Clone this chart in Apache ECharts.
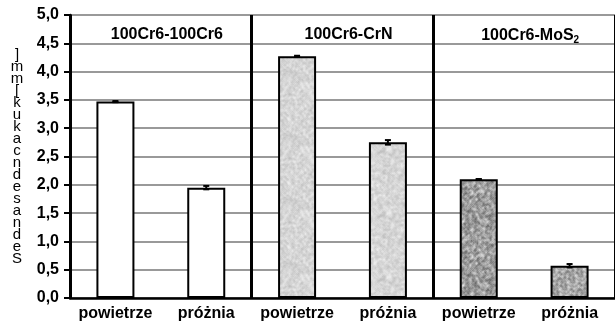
<!DOCTYPE html>
<html><head><meta charset="utf-8">
<script src="https://cdn.jsdelivr.net/npm/echarts@6/dist/echarts.min.js"></script>
<style>html,body{margin:0;padding:0;background:#fff}#c{width:615px;height:322px}</style>
</head><body><div id="c"></div>
<script>
var categories = ['powietrze', 'próżnia', 'powietrze', 'próżnia', 'powietrze', 'próżnia'];
var groups = ['100Cr6-100Cr6', '100Cr6-CrN', '100Cr6-MoS2'];
var values = [3.47, 1.95, 4.27, 2.75, 2.10, 0.57];
var errors = [0.01, 0.03, 0.01, 0.04, 0.0, 0.03];
var yTicks = ['0,0','0,5','1,0','1,5','2,0','2,5','3,0','3,5','4,0','4,5','5,0'];
var yLabelChars = [']','m','m','[','k','u','k','a','c','n','d','e','s','a','n','d','e','S'];

function noise(base, amp, seed) {
  var n = 64, c = document.createElement('canvas');
  c.width = n; c.height = n;
  var ctx = c.getContext('2d');
  var img = ctx.createImageData(n, n);
  var s = seed, grid = [];
  for (var i = 0; i < n * n; i++) {
    s = (s * 1103515245 + 12345) % 2147483648;
    grid.push(s / 2147483648 - 0.5);
  }
  for (var y = 0; y < n; y++) for (var x = 0; x < n; x++) {
    var a = 0;
    for (var dy = -1; dy <= 1; dy++) for (var dx = -1; dx <= 1; dx++) {
      a += grid[((y + dy + n) % n) * n + ((x + dx + n) % n)];
    }
    var v = Math.round(base + a / 9 * 2 * amp * 2.2 + grid[y * n + x] * amp * 0.6);
    v = Math.max(0, Math.min(255, v));
    var k = (y * n + x) * 4;
    img.data[k] = v; img.data[k + 1] = v; img.data[k + 2] = v; img.data[k + 3] = 255;
  }
  ctx.putImageData(img, 0, 0);
  return { image: c, repeat: 'repeat' };
}
var fills = ['#ffffff', '#ffffff', noise(214, 14, 7), noise(214, 14, 11), noise(158, 38, 5), noise(158, 38, 9)];

var chart = echarts.init(document.getElementById('c'), null, { renderer: 'canvas' });
var bold = { fontFamily: 'Liberation Sans, Arial, sans-serif', fontWeight: 'bold', color: '#000' };

chart.setOption({
  animation: false,
  backgroundColor: '#fff',
  grid: { left: 70, top: 15, width: 555, height: 283, show: true, borderColor: '#000', borderWidth: 2, backgroundColor: 'transparent' },
  xAxis: [{
    type: 'category', data: categories, position: 'bottom',
    axisLine: { lineStyle: { color: '#000', width: 2.5 } },
    axisTick: { show: false },
    axisLabel: Object.assign({ fontSize: 16, margin: 8, interval: 0 }, bold)
  }, {
    type: 'category', data: groups, position: 'top',
    axisLine: { show: false }, axisTick: { show: false },
    splitLine: { show: true, lineStyle: { color: '#000', width: 3 } },
    axisLabel: Object.assign({
      inside: true, margin: 12, fontSize: 16, interval: 0,
      formatter: function (v) {
        if (v.slice(-1) === '2') return '{a|' + v.slice(0, -1) + '}{s|2}';
        return '{a|' + v + '}';
      },
      rich: {
        a: Object.assign({ fontSize: 16, padding: [0, 0, 0, 12] }, bold),
        s: Object.assign({ fontSize: 10, padding: [8, 0, 0, 0] }, bold)
      }
    }, bold)
  }],
  yAxis: {
    type: 'value', min: 0, max: 5, interval: 0.5,
    name: yLabelChars.join('\n'), nameLocation: 'middle', nameGap: 53, nameRotate: 0,
    nameTextStyle: { fontFamily: 'Liberation Sans, Arial, sans-serif', fontSize: 15, lineHeight: 12, color: '#000', align: 'center' },
    axisLine: { show: true, lineStyle: { color: '#000', width: 2.5 } },
    axisTick: { show: true, length: 6, lineStyle: { color: '#000', width: 2 } },
    splitLine: { lineStyle: { color: '#999', width: 2 } },
    axisLabel: Object.assign({ fontSize: 16, margin: 11, formatter: function (v) { return yTicks[Math.round(v * 2)]; } }, bold)
  },
  series: [{
    type: 'bar', barWidth: 38,
    data: values.map(function (v, i) { return { value: v, itemStyle: { color: fills[i], borderColor: '#000', borderWidth: 2 } }; })
  }, {
    type: 'custom', z: 5,
    data: values.map(function (v, i) { return [i, v, errors[i]]; }),
    renderItem: function (params, api) {
      var x = api.value(0), v = api.value(1), e = api.value(2);
      var hi = api.coord([x, v + e]), lo = api.coord([x, v - e]);
      return {
        type: 'group', children: [
          { type: 'line', shape: { x1: hi[0] - 3, y1: hi[1], x2: hi[0] + 3, y2: hi[1] }, style: { stroke: '#000', lineWidth: 2 } },
          { type: 'line', shape: { x1: lo[0] - 3, y1: lo[1], x2: lo[0] + 3, y2: lo[1] }, style: { stroke: '#000', lineWidth: 2 } },
          { type: 'line', shape: { x1: hi[0], y1: hi[1], x2: lo[0], y2: lo[1] }, style: { stroke: '#000', lineWidth: 2 } }
        ]
      };
    }
  }]
});
</script></body></html>
